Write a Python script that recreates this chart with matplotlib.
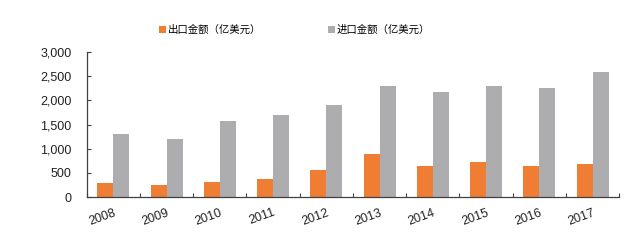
import numpy as np
import matplotlib.pyplot as plt
from matplotlib.ticker import FuncFormatter

plt.rcParams['font.family'] = ['Liberation Sans', 'Noto Sans CJK SC', 'DejaVu Sans']

# data
years = ['2008', '2009', '2010', '2011', '2012', '2013', '2014', '2015', '2016', '2017']
export_vals = [285, 255, 320, 365, 560, 895, 635, 715, 640, 690]
import_vals = [1295, 1200, 1565, 1700, 1915, 2305, 2170, 2290, 2265, 2590]
export_label = '出口金额（亿美元）'
import_label = '进口金额（亿美元）'

c_export = '#EF7D33'
c_import = '#ADADAF'
axis_col = '#404040'

fig = plt.figure(figsize=(6.4, 2.4), dpi=100)
ax = fig.add_axes([0.1355, 0.179, 0.832, 0.604])

x = np.arange(len(years))
w = 0.3
ax.bar(x - w / 2, export_vals, w, color=c_export, label=export_label)
ax.bar(x + w / 2, import_vals, w, color=c_import, label=import_label)

ax.set_xlim(-0.5, len(years) - 0.5)
ax.set_ylim(0, 3000)
ax.set_yticks(np.arange(0, 3001, 500))
ax.yaxis.set_major_formatter(FuncFormatter(lambda v, p: f'{int(v):,}'))

# x ticks at group boundaries, labels under groups
ax.set_xticks(np.arange(-0.5, len(years), 1.0))
ax.set_xticklabels([])
ax.set_xticks(x, minor=True)
ax.set_xticklabels(years, minor=True, rotation=20, fontsize=9, color='#222222',
                   ha='right', va='top', rotation_mode='anchor')
ax.tick_params(axis='x', which='minor', length=0, pad=7)
ax.tick_params(axis='x', which='major', direction='in', length=3, color=axis_col)
ax.tick_params(axis='y', direction='in', length=3, color=axis_col, labelsize=9,
               labelcolor='#222222', pad=11)

for s in ['top', 'right']:
    ax.spines[s].set_visible(False)
for s in ['left', 'bottom']:
    ax.spines[s].set_color(axis_col)
    ax.spines[s].set_linewidth(0.9)

fig.legend(loc='center', bbox_to_anchor=(0.46, 0.875), ncol=2, frameon=False,
           handlelength=0.7, handleheight=0.7, handletextpad=0.15,
           columnspacing=6.4, prop={'family': ['Noto Sans CJK SC', 'DejaVu Sans'], 'size': 7.5})

fig.savefig('out.png', dpi=100, facecolor='white')
